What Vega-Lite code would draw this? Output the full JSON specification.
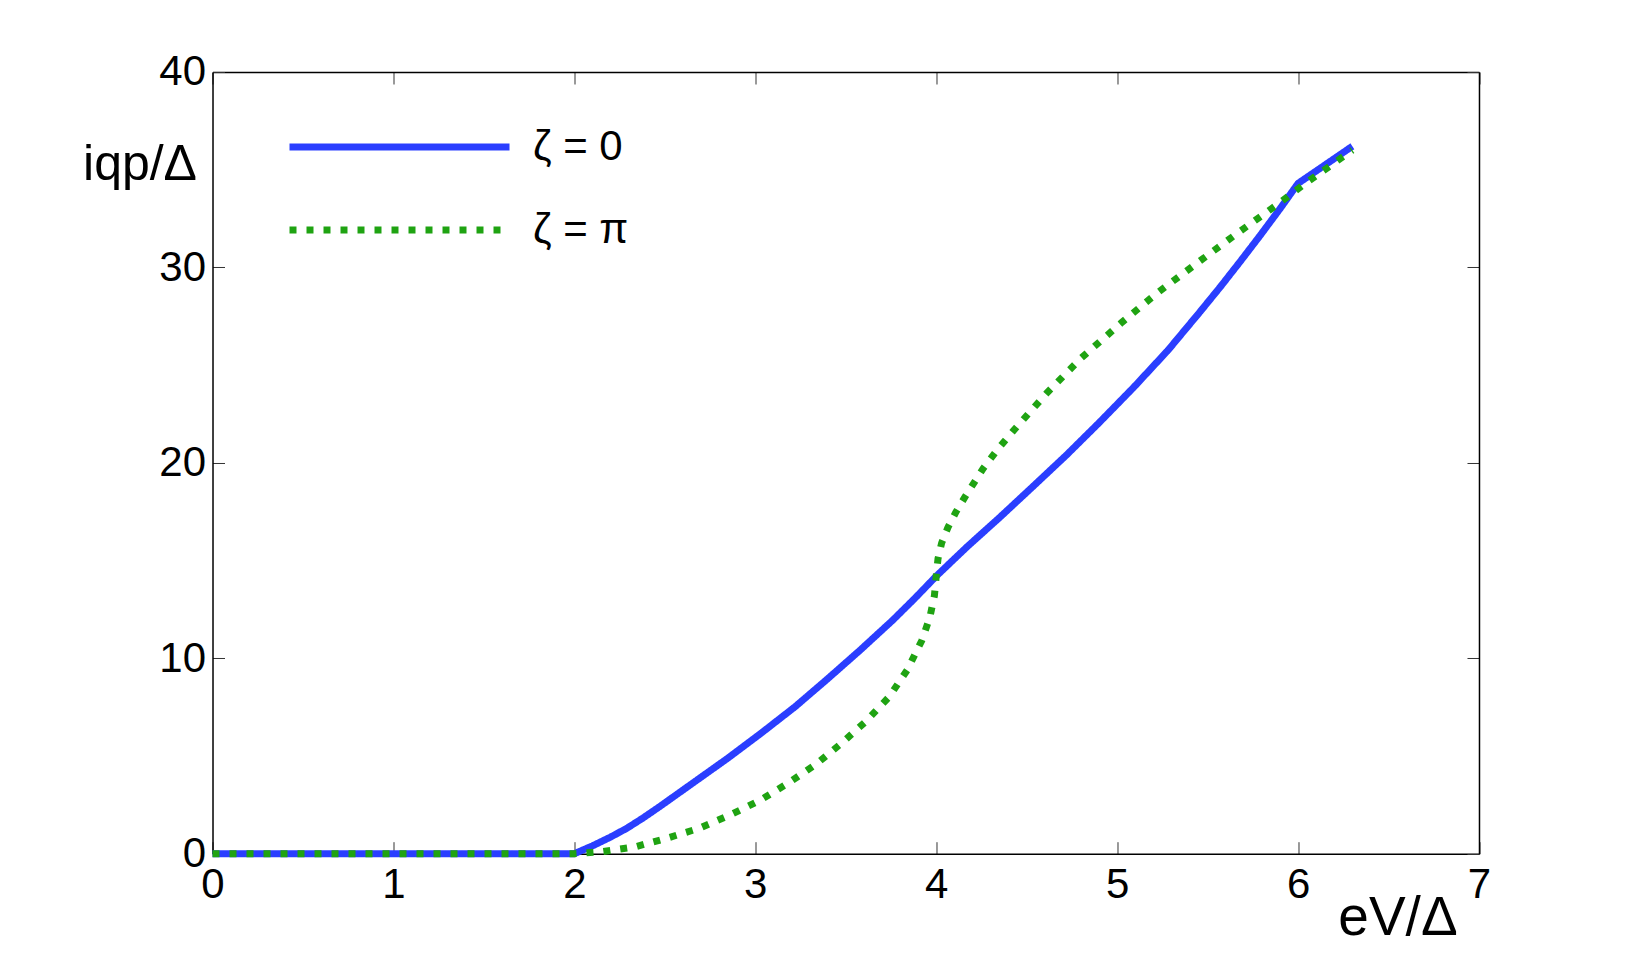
{
  "$schema": "https://vega.github.io/schema/vega-lite/v6.json",
  "autosize": {"type": "none"},
  "padding": {"left": 212.5, "top": 72, "right": 155, "bottom": 107},
  "width": 1266.5,
  "height": 781.7,
  "background": "white",
  "config": {
    "view": {"stroke": null},
    "font": "Liberation Sans",
    "axis": {
      "grid": false,
      "labelFont": "Liberation Sans",
      "labelFontSize": 42,
      "labelColor": "black",
      "labelFlush": false,
      "labelOverlap": false,
      "tickSize": -12,
      "tickColor": "#333333",
      "tickWidth": 1,
      "domainColor": "black",
      "domainWidth": 1.5,
      "titleFont": "Liberation Sans",
      "titleFontWeight": "normal",
      "titleColor": "black"
    }
  },
  "data": {
    "values": [
      {"x": 0, "y": 0, "s": "ζ = 0"},
      {"x": 2, "y": 0, "s": "ζ = 0"},
      {"x": 2.1, "y": 0.4, "s": "ζ = 0"},
      {"x": 2.2, "y": 0.85, "s": "ζ = 0"},
      {"x": 2.29, "y": 1.3, "s": "ζ = 0"},
      {"x": 2.38, "y": 1.83, "s": "ζ = 0"},
      {"x": 2.47, "y": 2.4, "s": "ζ = 0"},
      {"x": 2.66, "y": 3.65, "s": "ζ = 0"},
      {"x": 2.85, "y": 4.9, "s": "ζ = 0"},
      {"x": 3.03, "y": 6.15, "s": "ζ = 0"},
      {"x": 3.22, "y": 7.52, "s": "ζ = 0"},
      {"x": 3.4, "y": 8.95, "s": "ζ = 0"},
      {"x": 3.58, "y": 10.42, "s": "ζ = 0"},
      {"x": 3.76, "y": 11.95, "s": "ζ = 0"},
      {"x": 3.88, "y": 13.05, "s": "ζ = 0"},
      {"x": 4.0, "y": 14.2, "s": "ζ = 0"},
      {"x": 4.17, "y": 15.7, "s": "ζ = 0"},
      {"x": 4.35, "y": 17.2, "s": "ζ = 0"},
      {"x": 4.53, "y": 18.75, "s": "ζ = 0"},
      {"x": 4.72, "y": 20.4, "s": "ζ = 0"},
      {"x": 4.9, "y": 22.05, "s": "ζ = 0"},
      {"x": 5.09, "y": 23.85, "s": "ζ = 0"},
      {"x": 5.28, "y": 25.75, "s": "ζ = 0"},
      {"x": 5.46, "y": 27.75, "s": "ζ = 0"},
      {"x": 5.57, "y": 29.0, "s": "ζ = 0"},
      {"x": 5.68, "y": 30.3, "s": "ζ = 0"},
      {"x": 5.79, "y": 31.63, "s": "ζ = 0"},
      {"x": 5.9, "y": 33.0, "s": "ζ = 0"},
      {"x": 6.0, "y": 34.3, "s": "ζ = 0"},
      {"x": 6.3, "y": 36.2, "s": "ζ = 0"},
      {"x": 0, "y": 0, "s": "ζ = π"},
      {"x": 2, "y": 0, "s": "ζ = π"},
      {"x": 2.15, "y": 0.1, "s": "ζ = π"},
      {"x": 2.34, "y": 0.36, "s": "ζ = π"},
      {"x": 2.51, "y": 0.79, "s": "ζ = π"},
      {"x": 2.69, "y": 1.3, "s": "ζ = π"},
      {"x": 2.86, "y": 1.98, "s": "ζ = π"},
      {"x": 3.03, "y": 2.75, "s": "ζ = π"},
      {"x": 3.18, "y": 3.6, "s": "ζ = π"},
      {"x": 3.33, "y": 4.54, "s": "ζ = π"},
      {"x": 3.47, "y": 5.6, "s": "ζ = π"},
      {"x": 3.61, "y": 6.76, "s": "ζ = π"},
      {"x": 3.74, "y": 8.03, "s": "ζ = π"},
      {"x": 3.84, "y": 9.4, "s": "ζ = π"},
      {"x": 3.92, "y": 10.9, "s": "ζ = π"},
      {"x": 3.965, "y": 12.1, "s": "ζ = π"},
      {"x": 3.99, "y": 13.2, "s": "ζ = π"},
      {"x": 4.0, "y": 14.2, "s": "ζ = π"},
      {"x": 4.01, "y": 15.1, "s": "ζ = π"},
      {"x": 4.03, "y": 15.9, "s": "ζ = π"},
      {"x": 4.065, "y": 16.7, "s": "ζ = π"},
      {"x": 4.11, "y": 17.5, "s": "ζ = π"},
      {"x": 4.16, "y": 18.27, "s": "ζ = π"},
      {"x": 4.26, "y": 19.72, "s": "ζ = π"},
      {"x": 4.34, "y": 20.7, "s": "ζ = π"},
      {"x": 4.43, "y": 21.68, "s": "ζ = π"},
      {"x": 4.61, "y": 23.56, "s": "ζ = π"},
      {"x": 4.8, "y": 25.35, "s": "ζ = π"},
      {"x": 5.02, "y": 27.14, "s": "ζ = π"},
      {"x": 5.22, "y": 28.68, "s": "ζ = π"},
      {"x": 5.44, "y": 30.21, "s": "ζ = π"},
      {"x": 5.66, "y": 31.72, "s": "ζ = π"},
      {"x": 5.89, "y": 33.25, "s": "ζ = π"},
      {"x": 6.04, "y": 34.3, "s": "ζ = π"},
      {"x": 6.3, "y": 36.0, "s": "ζ = π"}
    ]
  },
  "layer": [
    {
      "mark": {"type": "line", "strokeWidth": 7, "strokeCap": "butt", "strokeJoin": "round", "interpolate": "linear"},
      "encoding": {
        "x": {
          "field": "x", "type": "quantitative",
          "scale": {"domain": [0, 7], "nice": false, "zero": false},
          "axis": {
            "orient": "bottom",
            "values": [0, 1, 2, 3, 4, 5, 6, 7],
            "format": "d",
            "labelPadding": 23,
            "title": "eV/Δ",
            "titleFontSize": 55,
            "titleX": 1185,
            "titleY": 81,
            "titleAlign": "center",
            "titleBaseline": "alphabetic"
          }
        },
        "y": {
          "field": "y", "type": "quantitative",
          "scale": {"domain": [0, 40], "nice": false, "zero": false},
          "axis": {
            "orient": "left",
            "values": [0, 10, 20, 30, 40],
            "format": "d",
            "labelPadding": 19,
            "title": "iqp/Δ",
            "titleFontSize": 50,
            "titleAngle": 0,
            "titleX": -73,
            "titleY": 108,
            "titleAlign": "center",
            "titleBaseline": "alphabetic"
          }
        },
        "color": {
          "field": "s", "type": "nominal",
          "scale": {"domain": ["ζ = 0", "ζ = π"], "range": ["#2a3eff", "#1fa312"]},
          "legend": {
            "orient": "none", "legendX": 73.5, "legendY": 55, "title": null,
            "padding": 0, "symbolType": "stroke", "symbolSize": 48400,
            "symbolStrokeWidth": 7, "clipHeight": 40, "rowPadding": 41,
            "labelFontSize": 42, "labelFont": "Liberation Sans", "labelOffset": 20,
            "labelColor": "black", "labelLimit": 400
          }
        },
        "strokeDash": {
          "field": "s", "type": "nominal",
          "scale": {"domain": ["ζ = 0", "ζ = π"], "range": [[1, 0], [7, 10]]},
          "legend": {
            "orient": "none", "legendX": 73.5, "legendY": 55, "title": null,
            "padding": 0, "symbolType": "stroke", "symbolSize": 48400,
            "symbolStrokeWidth": 7, "clipHeight": 40, "rowPadding": 41,
            "labelFontSize": 42, "labelFont": "Liberation Sans", "labelOffset": 20,
            "labelColor": "black", "labelLimit": 400
          }
        }
      }
    },
    {
      "mark": {"type": "point", "opacity": 0, "size": 1},
      "encoding": {
        "x": {
          "field": "x", "type": "quantitative",
          "axis": {"orient": "top", "values": [0, 1, 2, 3, 4, 5, 6, 7], "labels": false, "title": null}
        },
        "y": {
          "field": "y", "type": "quantitative",
          "axis": {"orient": "right", "values": [0, 10, 20, 30, 40], "labels": false, "title": null}
        }
      }
    }
  ],
  "resolve": {"axis": {"x": "independent", "y": "independent"}}
}
